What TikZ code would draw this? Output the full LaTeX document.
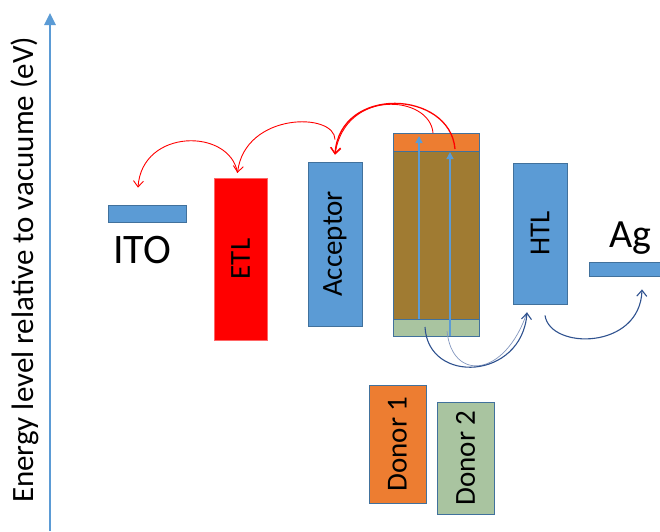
\documentclass[tikz,border=0pt]{standalone}
\usepackage{fontspec}
\setmainfont{Carlito}
\usetikzlibrary{arrows.meta}

\definecolor{layerblue}{RGB}{91,155,213}
\definecolor{layeredge}{RGB}{65,113,156}
\definecolor{donororange}{RGB}{237,125,49}
\definecolor{blendbrown}{RGB}{160,123,50}
\definecolor{donorgreen}{RGB}{169,196,160}
\definecolor{holenavy}{RGB}{47,82,143}
\definecolor{holepale}{RGB}{130,150,190}

\begin{document}
\begin{tikzpicture}[x=1pt, y=-1pt,
  layer/.style={draw=layeredge, line width=0.8pt, inner sep=0pt},
  boxtext/.style={font=\fontsize{29}{31}\selectfont},
  electron/.style={red, line width=0.9pt, -{Straight Barb[length=6pt,width=10pt]}},
  hole/.style={holenavy, line width=1.1pt, -{Straight Barb[length=6pt,width=10pt]}},
  excite/.style={layerblue, line width=1.4pt, -{Triangle[length=7pt,width=7pt]}}]

  \useasboundingbox (0,0) rectangle (660,531);

  % Energy axis
  \coordinate (axisbottom) at (50,531);
  \coordinate (axistop) at (50,13);
  \draw[layerblue, line width=2.6pt, -{Triangle[length=12pt,width=11pt]}] (axisbottom) -- (axistop);
  \node[rotate=90, anchor=base, font=\fontsize{31}{33}\selectfont] (axislabel) at (33,270)
    {Energy level relative to vacuume (eV)};

  % Electrodes: ITO and Ag
  \node[layer, fill=layerblue, minimum width=78pt, minimum height=17pt] (ito) at (147,213.5) {};
  \node[font=\fontsize{42}{44}\selectfont] (itolabel) at (142,250) {ITO};
  \node[layer, fill=layerblue, minimum width=72pt, minimum height=14pt] (ag) at (625,269) {};
  \node[font=\fontsize{40}{42}\selectfont] (aglabel) at (630,238) {Ag};

  % Transport layers
  \node[draw=red!60, fill=red, inner sep=0pt, minimum width=53pt, minimum height=162pt, boxtext]
    (etl) at (240.5,259) {\rotatebox{90}{ETL}};
  \node[layer, fill=layerblue, minimum width=54pt, minimum height=164pt, boxtext]
    (acceptor) at (335,244) {\rotatebox{90}{Acceptor}};
  \node[layer, fill=layerblue, minimum width=54pt, minimum height=141pt, boxtext]
    (htl) at (540,233.5) {\rotatebox{90}{HTL}};

  % Active blend (donor levels top and bottom)
  \node[layer, fill=blendbrown, minimum width=86pt, minimum height=168pt] (blend) at (436,235) {};
  \node[layer, fill=donororange, minimum width=86pt, minimum height=18pt] (lumo) at (436,142) {};
  \node[layer, fill=donorgreen, minimum width=86pt, minimum height=17pt] (homo) at (436,327.5) {};

  % Donors
  \node[layer, fill=donororange, minimum width=57pt, minimum height=118pt, boxtext]
    (donorone) at (397.5,444) {\rotatebox{90}{Donor 1}};
  \node[layer, fill=donorgreen, minimum width=57pt, minimum height=112pt, boxtext]
    (donortwo) at (465.5,458) {\rotatebox{90}{Donor 2}};

  % Excitation inside the blend
  \coordinate (exonefoot) at (419,319);
  \coordinate (exonetip) at (419,136);
  \coordinate (extwofoot) at (450,336);
  \coordinate (extwotip) at (450,152);
  \draw[excite] (exonefoot) -- (exonetip);
  \draw[excite] (extwofoot) -- (extwotip);

  % Electron transfer (red)
  \coordinate (eoutone) at (455,149);
  \coordinate (eouttwo) at (433,133);
  \draw[electron, line width=1.3pt] (eoutone) .. controls (450,90) and (340,85) .. ([yshift=7pt]acceptor.north);
  \draw[electron] (eouttwo) .. controls (430,95) and (345,88) .. ([yshift=7pt]acceptor.north);
  \draw[electron] ([yshift=22pt]acceptor.north) .. controls (335,112) and (245,112) .. ([xshift=-3pt,yshift=5pt]etl.north);
  \draw[electron] ([xshift=-3pt,yshift=5pt]etl.north) .. controls (230,128) and (142,128) .. ([xshift=-9pt,yshift=17pt]ito.north);

  % Hole transfer (navy)
  \coordinate (houtone) at (425,327);
  \coordinate (houttwo) at (447,331);
  \draw[holepale, line width=0.7pt] (houttwo) .. controls (452,382) and (505,378) .. ([xshift=-13pt,yshift=-8pt]htl.south);
  \draw[hole] (houtone) .. controls (428,385) and (522,380) .. ([xshift=-13pt,yshift=-8pt]htl.south);
  \draw[hole] ([xshift=5pt,yshift=-11pt]htl.south) .. controls (550,350) and (640,350) .. ([xshift=17pt,yshift=-13pt]ag.south);

\end{tikzpicture}
\end{document}
